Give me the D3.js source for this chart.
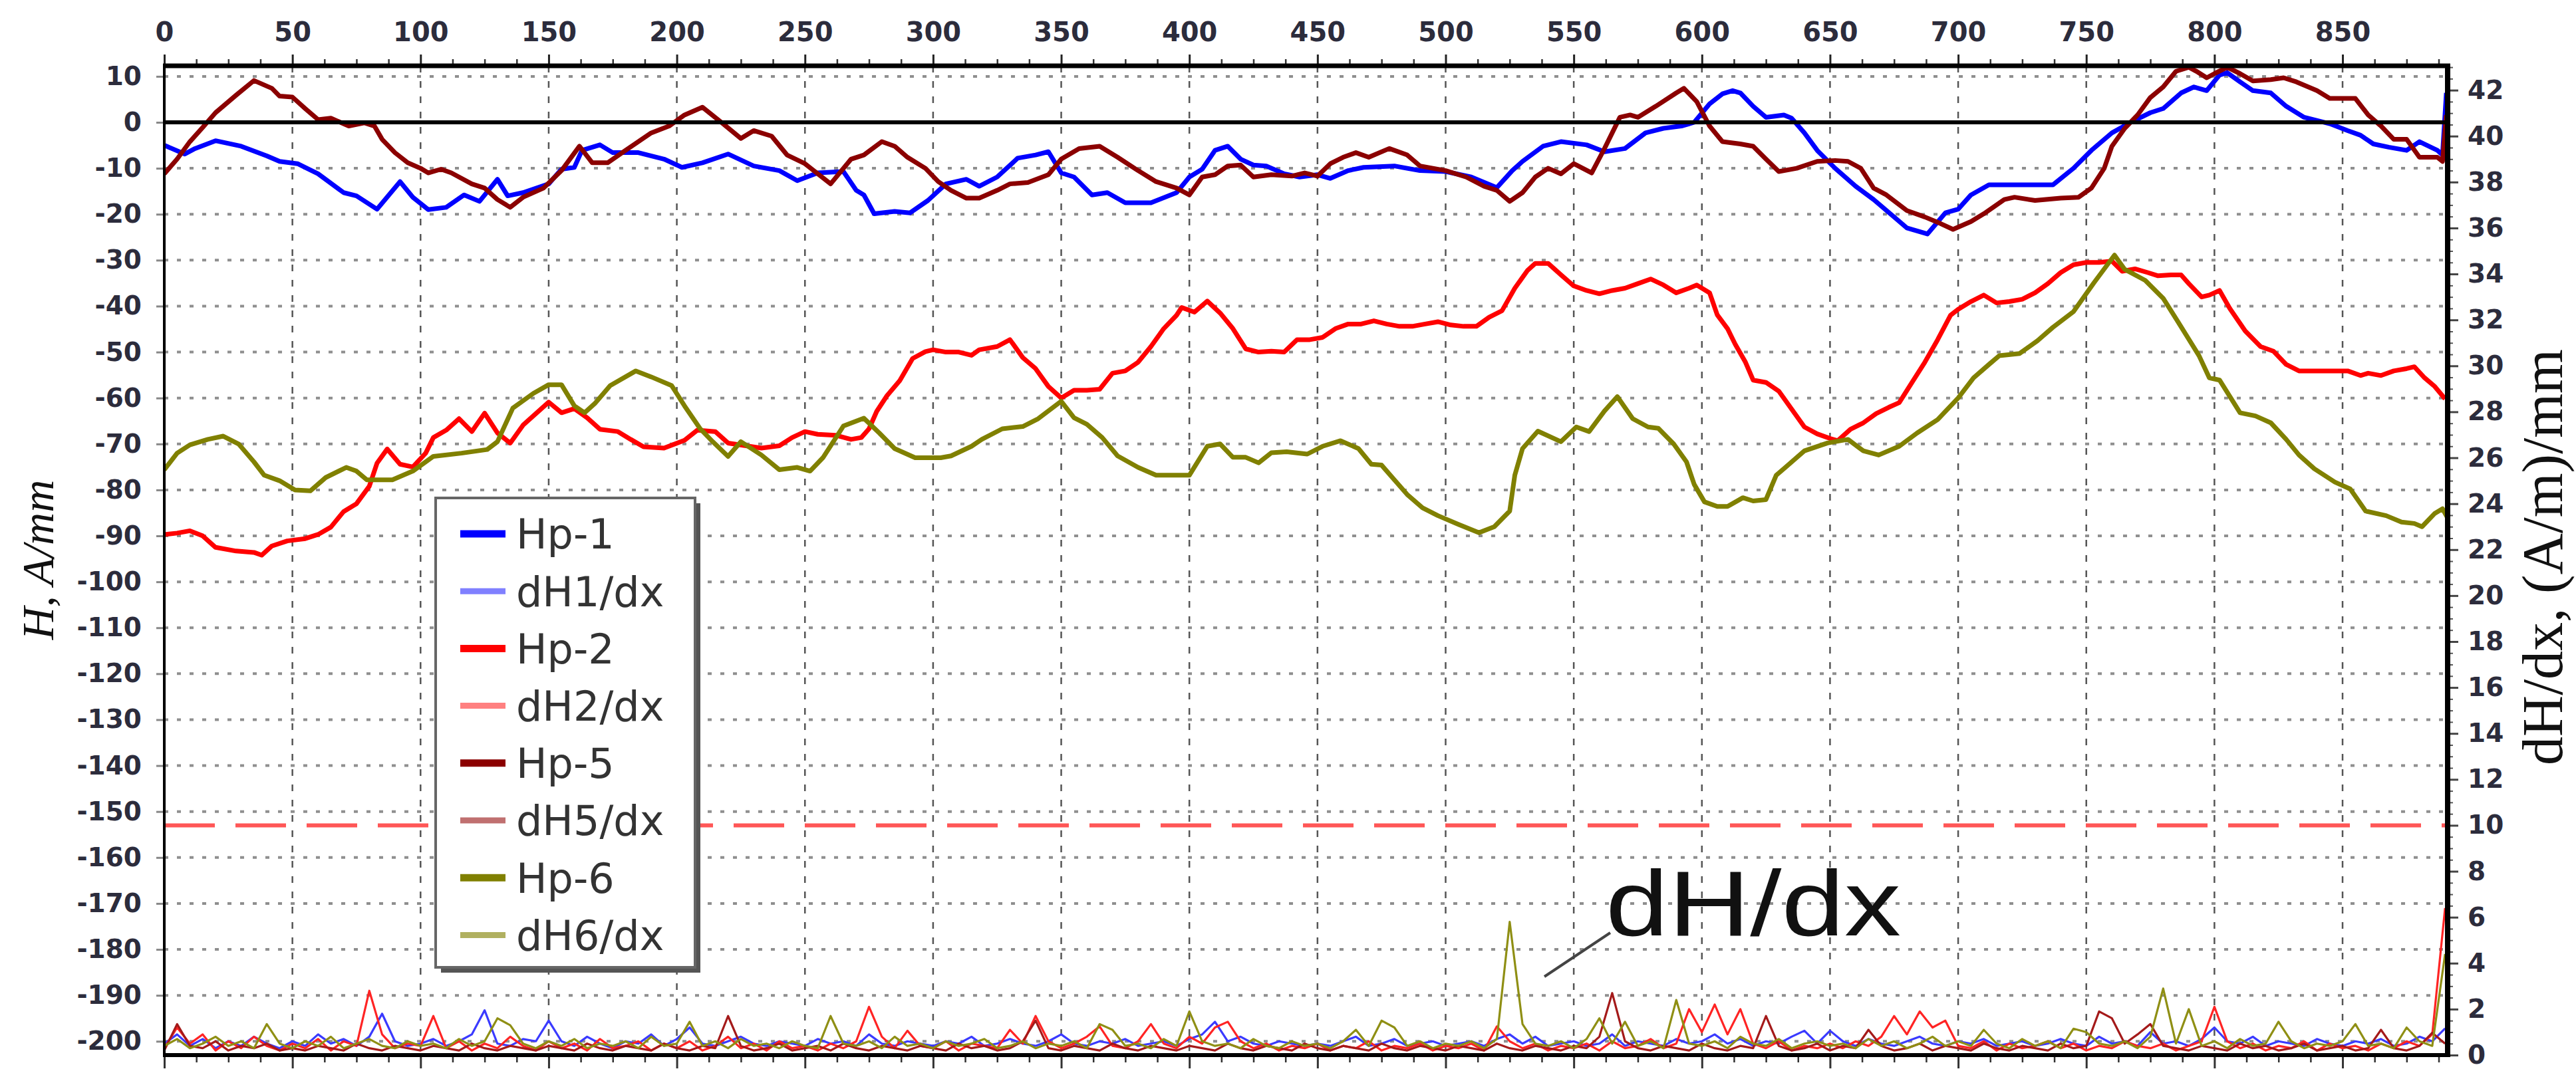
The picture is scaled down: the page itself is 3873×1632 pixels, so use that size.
<!DOCTYPE html>
<html><head><meta charset="utf-8">
<script src="https://cdn.jsdelivr.net/npm/d3@7"></script>
<style>html,body{margin:0;padding:0;background:#fff;} svg{display:block;}</style>
</head><body>
<svg id="chart" width="3873" height="1632"></svg>
<script>
// ---------------- data ----------------
const xTicks = [0,50,100,150,200,250,300,350,400,450,500,550,600,650,700,750,800,850];
const leftTicks = [10,0,-10,-20,-30,-40,-50,-60,-70,-80,-90,-100,-110,-120,-130,-140,-150,-160,-170,-180,-190,-200];
const rightTicks = [0,2,4,6,8,10,12,14,16,18,20,22,24,26,28,30,32,34,36,38,40,42];
const legendNames = ["Hp-1","dH1/dx","Hp-2","dH2/dx","Hp-5","dH5/dx","Hp-6","dH6/dx"];
const thresholdDH = 10;
const annotationText = "dH/dx";

// H series: [x, H (A/mm)]
const hp1 = [[0,-5],[8,-6.9],[12,-5.7],[20,-4],[30,-5.2],[40,-7.3],[45,-8.5],[52,-9],[60,-11.2],[70,-15.3],[75,-16],[83,-18.9],[92,-12.9],[97,-16.3],[103,-19],[110,-18.5],[117,-15.8],[123,-17.2],[130,-12.4],[134,-16],[140,-15.3],[150,-13.4],[155,-10.2],[160,-9.8],[163,-6.1],[170,-4.9],[175,-6.6],[185,-6.6],[195,-8],[202,-9.8],[210,-8.8],[220,-6.9],[230,-9.5],[240,-10.5],[247,-12.7],[255,-11],[265,-10.7],[270,-14.8],[273,-15.8],[277,-19.9],[285,-19.4],[291,-19.7],[298,-17],[305,-13.4],[313,-12.4],[318,-13.9],[325,-11.9],[333,-7.8],[340,-7.1],[345,-6.4],[350,-11],[355,-11.9],[362,-15.8],[368,-15.3],[375,-17.5],[385,-17.5],[395,-15.3],[400,-11.9],[405,-10.2],[410,-6.1],[415,-5.2],[420,-8],[425,-9.3],[430,-9.5],[437,-11.2],[443,-11.9],[450,-11.4],[455,-12.2],[462,-10.5],[468,-9.8],[480,-9.5],[490,-10.5],[500,-10.7],[510,-11.9],[520,-14.2],[526,-10.5],[530,-8.5],[538,-5.2],[545,-4.2],[555,-4.9],[562,-6.4],[570,-5.7],[578,-2.3],[585,-1.3],[592,-0.8],[597,0],[603,4],[608,6.2],[612,6.9],[615,6.4],[620,3.5],[625,1.1],[632,1.6],[635,0.9],[640,-2.3],[645,-6.1],[652,-10],[660,-13.9],[667,-16.8],[675,-20.6],[680,-23],[688,-24.3],[695,-19.7],[700,-18.9],[705,-15.8],[712,-13.6],[725,-13.6],[737,-13.6],[745,-10],[752,-6.1],[760,-2.3],[767,-0.1],[775,2.1],[780,3],[787,6.4],[792,7.7],[797,6.9],[802,10.3],[805,10.8],[810,8.8],[815,6.9],[822,6.4],[828,3.5],[835,1.1],[845,-0.3],[852,-1.8],[857,-2.8],[862,-4.7],[868,-5.4],[875,-6.1],[880,-4.2],[887,-6.1],[889,-7.1],[890.5,6.4]];

const hp2 = [[0,-89.7],[5,-89.4],[10,-88.9],[15,-90],[20,-92.5],[28,-93.3],[35,-93.6],[38,-94.2],[42,-92.2],[48,-91.1],[55,-90.6],[60,-89.7],[65,-88.1],[70,-84.7],[75,-83],[80,-79.2],[83,-74.2],[87,-71.1],[92,-74.4],[97,-75],[102,-72],[105,-68.6],[110,-67],[115,-64.5],[120,-67.3],[125,-63.3],[130,-67.6],[135,-69.8],[140,-65.9],[145,-63.4],[150,-60.9],[155,-63.2],[160,-62.3],[165,-64.3],[170,-66.8],[177,-67.3],[182,-69],[187,-70.6],[195,-70.9],[203,-69.2],[208,-67],[215,-67.3],[220,-69.8],[227,-70.4],[233,-70.9],[240,-70.4],[245,-68.6],[250,-67.3],[255,-67.9],[262,-68.1],[268,-69],[272,-68.6],[275,-66.7],[278,-62.9],[282,-59.5],[287,-56.2],[292,-51.4],[297,-49.9],[300,-49.5],[305,-50],[310,-50],[315,-50.7],[318,-49.5],[325,-48.8],[330,-47.3],[335,-51.2],[340,-53.6],[345,-57.5],[350,-60],[355,-58.3],[360,-58.3],[365,-58.1],[370,-54.6],[375,-54.1],[380,-52.2],[385,-48.8],[390,-44.9],[395,-42],[397,-40.3],[402,-41.3],[407,-38.9],[412,-41.5],[417,-44.9],[422,-49.3],[427,-50],[432,-49.8],[437,-50],[442,-47.3],[447,-47.3],[452,-46.8],[457,-44.9],[462,-43.9],[467,-43.9],[472,-43.2],[477,-43.9],[482,-44.4],[487,-44.4],[492,-43.9],[497,-43.4],[502,-44.1],[507,-44.4],[512,-44.4],[517,-42.4],[522,-41],[527,-36.1],[532,-32.2],[535,-30.7],[540,-30.7],[545,-33.2],[550,-35.6],[555,-36.6],[560,-37.3],[565,-36.6],[570,-36.1],[575,-35.1],[580,-34.1],[585,-35.4],[590,-37.1],[595,-36.1],[598,-35.4],[603,-37.1],[606,-41.9],[610,-44.9],[613,-48.3],[617,-52.2],[620,-56.1],[625,-56.6],[630,-58.5],[635,-62.4],[640,-66.3],[645,-67.8],[650,-68.8],[653,-69.3],[658,-66.8],[663,-65.4],[668,-63.4],[673,-62],[677,-61],[682,-56.6],[687,-52.2],[692,-47.3],[697,-42],[700,-40.7],[705,-39],[710,-37.6],[715,-39.3],[720,-39],[725,-38.5],[730,-37.1],[735,-35.1],[740,-32.7],[745,-31],[750,-30.5],[755,-30.5],[760,-30.2],[764,-32.4],[769,-31.9],[774,-32.7],[778,-33.4],[783,-33.2],[787,-33.2],[790,-35.1],[795,-38],[798,-37.6],[802,-36.6],[806,-40.5],[812,-45.4],[818,-48.8],[823,-49.8],[828,-52.7],[833,-54.1],[852,-54.1],[857,-55.1],[860,-54.6],[865,-55.1],[870,-54.1],[875,-53.6],[878,-53.2],[882,-55.6],[886,-57.5],[890,-60.2]];

const hp5 = [[0,-11.2],[5,-8],[10,-4.2],[15,-1.1],[20,2.1],[28,5.9],[35,9.1],[42,7.4],[45,5.7],[50,5.5],[55,3],[60,0.6],[65,0.9],[72,-0.8],[78,-0.1],[82,-0.8],[85,-3.7],[90,-6.6],[95,-8.8],[100,-10],[103,-11],[108,-10.2],[112,-11],[120,-13.4],[125,-14.3],[130,-16.8],[135,-18.5],[140,-16.3],[148,-14.3],[155,-10.5],[162,-5.2],[167,-8.8],[173,-8.8],[180,-6.1],[190,-2.3],[197,-0.8],[203,1.6],[210,3.3],[218,-0.3],[225,-3.5],[230,-1.8],[237,-3],[243,-7.1],[250,-9],[260,-13.4],[268,-8],[273,-7.1],[280,-4.2],[285,-5.2],[290,-7.6],[297,-10],[302,-12.9],[307,-14.8],[313,-16.5],[318,-16.5],[325,-14.8],[330,-13.4],[337,-13.1],[345,-11.4],[350,-8],[357,-5.7],[365,-5.2],[372,-7.6],[380,-10.5],[387,-12.9],[395,-14.3],[400,-15.8],[405,-11.9],[410,-11.4],[415,-9.5],[420,-9.3],[425,-11.9],[432,-11.4],[440,-11.7],[445,-11],[450,-11.7],[455,-9],[460,-7.6],[465,-6.6],[470,-7.6],[478,-5.7],[485,-7.1],[490,-9.5],[500,-10.5],[508,-11.9],[515,-13.9],[520,-14.8],[525,-17.2],[530,-15.3],[535,-11.9],[540,-10],[545,-11.2],[550,-9],[557,-11],[562,-5.7],[568,1.1],[572,1.6],[575,1.1],[582,3.5],[590,6.4],[593,7.4],[598,4.5],[603,-0.8],[608,-4.2],[615,-4.7],[620,-5.2],[625,-8],[630,-10.7],[637,-10],[645,-8.5],[652,-8.3],[657,-8.5],[662,-10],[667,-14.3],[672,-15.8],[680,-19.2],[687,-20.6],[693,-22],[698,-23.3],[705,-21.6],[710,-19.9],[718,-16.8],[722,-16.3],[730,-17],[740,-16.5],[747,-16.3],[752,-14.3],[757,-10],[760,-5.2],[765,-1.3],[770,1.6],[775,5.4],[780,7.7],[785,11.1],[790,12],[793,11.1],[797,9.7],[800,10.6],[805,12],[810,10.6],[815,9],[822,9.3],[827,9.7],[832,8.8],[840,6.9],[845,5.2],[855,5.2],[860,1.6],[865,-0.8],[870,-3.7],[875,-3.7],[880,-7.6],[887,-7.6],[889,-8.5],[890.5,1.6]];

const hp6 = [[0,-75.6],[5,-72],[10,-70.2],[17,-69],[23,-68.3],[29,-70],[35,-73.9],[39,-76.8],[45,-78],[51,-80],[57,-80.2],[63,-77.3],[71,-75.1],[75,-75.9],[79,-77.8],[89,-77.8],[97,-75.9],[105,-72.7],[116,-72],[126,-71.2],[130,-69.5],[136,-62.2],[144,-59],[150,-57.1],[155,-57.1],[160,-61.7],[164,-63.2],[168,-61.2],[174,-57.3],[184,-54.1],[190,-55.4],[198,-57.3],[203,-61.7],[209,-66.6],[214,-69.5],[220,-72.7],[225,-69.5],[233,-72.4],[240,-75.6],[247,-75.1],[252,-75.9],[257,-73],[265,-66.1],[273,-64.4],[279,-67.6],[285,-71],[293,-73],[303,-73],[307,-72.6],[315,-70.5],[319,-69],[327,-66.7],[335,-66.2],[341,-64.5],[350,-60.7],[355,-64.3],[360,-65.7],[366,-68.6],[372,-72.6],[380,-75.1],[387,-76.8],[400,-76.8],[407,-70.5],[412,-70],[417,-72.9],[422,-72.9],[427,-74.1],[432,-71.9],[438,-71.7],[446,-72.2],[452,-70.5],[459,-69.3],[466,-71],[471,-74.4],[475,-74.6],[480,-77.8],[485,-81],[491,-83.9],[497,-85.6],[505,-87.5],[513,-89.3],[519,-88],[525,-84.6],[527,-76.8],[530,-71],[536,-67.2],[545,-69.5],[551,-66.3],[556,-67.3],[562,-62.8],[567,-59.7],[573,-64.5],[579,-66.3],[583,-66.6],[589,-70],[594,-73.9],[597,-78.8],[601,-82.6],[606,-83.6],[610,-83.6],[616,-81.7],[620,-82.4],[625,-82.1],[629,-76.8],[633,-74.9],[640,-71.5],[649,-69.8],[657,-69],[663,-71.5],[669,-72.4],[677,-70.5],[684,-67.6],[692,-64.7],[700,-60],[706,-55.6],[712,-52.7],[716,-50.8],[724,-50.3],[731,-47.5],[737,-44.6],[745,-41.2],[753,-34.9],[761,-28.9],[765,-32],[773,-34.4],[780,-38.3],[786,-43.6],[794,-50.8],[798,-55.6],[802,-56.1],[810,-63.2],[816,-63.9],[822,-65.4],[828,-69],[833,-72.4],[839,-75.4],[847,-78.3],[853,-79.8],[859,-84.6],[867,-85.6],[873,-87],[878,-87.3],[881,-88],[886,-85.1],[889,-84.1],[891,-86.1]];

// dH/dx series, sampled every 5 units of x (0..890), in (A/m)/mm
const dH1 = [0.5,0.9,0.4,0.7,0.3,0.6,0.4,0.8,0.5,0.3, 0.6,0.4,0.9,0.5,0.7,0.4,0.8,1.8,0.6,0.4, 0.5,0.7,0.4,0.6,0.9,1.95,0.5,0.4,0.7,0.6, 1.5,0.6,0.4,0.8,0.5,0.3,0.6,0.5,0.9,0.4, 0.7,1.2,0.5,0.4,0.6,0.8,0.5,0.4,0.6,0.5, 0.4,0.7,0.5,0.6,0.4,0.9,0.5,0.4,0.6,0.5, 0.4,0.6,0.5,0.8,0.4,0.5,0.7,0.5,0.4,0.6, 0.9,0.5,0.4,0.6,0.5,0.7,0.4,0.5,0.6,0.4, 0.7,0.9,1.45,0.6,0.8,0.5,0.4,0.6,0.5,0.4, 0.5,0.4,0.6,0.8,0.4,0.5,0.7,0.4,0.5,0.6, 0.4,0.5,0.6,0.4,0.7,0.9,0.5,0.8,0.4,0.5, 0.6,0.4,0.5,0.9,0.4,0.6,0.5,0.4,0.7,0.5, 0.6,0.9,0.5,0.7,0.4,0.6,0.5,0.8,1.06,0.5, 1.06,0.6,0.4,0.7,0.5,0.4,0.6,0.8,0.5,0.4, 0.6,0.5,0.7,0.4,0.5,0.6,0.4,0.5,0.7,0.5, 0.4,0.8,0.5,0.6,0.4,1.0,0.5,0.6,0.4,0.7, 1.2,0.6,0.5,0.8,0.4,0.6,0.5,0.4,0.7,0.5, 0.4,0.6,0.5,0.7,0.4,0.5,0.8,0.6,1.16];
const dH2 = [0.3,1.2,0.5,0.9,0.2,0.6,0.3,0.8,0.4,0.2, 0.5,0.3,0.7,0.2,0.6,0.4,2.8,0.9,0.3,0.5, 0.4,1.7,0.3,0.6,0.2,0.5,0.3,0.8,0.4,0.2, 0.6,0.3,0.5,0.2,0.7,0.3,0.4,0.6,0.2,0.5, 0.3,0.6,0.2,0.4,0.8,0.3,0.5,0.2,0.6,0.3, 0.4,0.2,0.5,0.3,0.6,2.1,0.8,0.3,1.06,0.4, 0.3,0.6,0.2,0.5,0.4,0.3,1.1,0.5,1.7,0.6, 0.3,0.5,0.8,1.25,0.4,0.3,0.6,1.35,0.5,0.3, 0.8,0.5,1.2,1.45,0.6,0.3,0.5,0.2,0.4,0.3, 0.5,0.2,0.4,0.3,0.6,0.2,0.4,0.3,0.5,0.2, 0.4,0.3,0.5,0.2,1.25,0.6,0.3,0.5,0.2,0.4, 0.3,0.5,0.2,0.6,0.3,0.4,0.7,0.3,0.5,2.0, 1.0,2.2,0.9,2.0,0.5,0.3,0.6,0.2,0.4,0.3, 0.5,0.3,0.6,0.4,0.8,1.7,0.9,1.9,1.2,1.5, 0.4,0.3,0.6,0.2,0.5,0.3,0.4,0.6,0.3,0.5, 0.2,0.4,0.3,0.6,0.4,0.3,0.5,0.2,0.4,0.6, 2.1,0.6,0.3,0.5,0.2,0.4,0.3,0.6,0.2,0.5, 0.3,0.4,0.2,0.5,0.3,0.6,0.4,0.9,6.4];
const dH5 = [0.2,1.35,0.4,0.3,0.6,0.2,0.4,0.3,0.5,0.2, 0.3,0.2,0.4,0.3,0.2,0.5,0.3,0.2,0.4,0.3, 0.2,0.4,0.3,0.2,0.5,0.3,0.2,0.4,0.3,0.2, 0.4,0.3,0.2,0.5,0.3,0.2,0.4,0.3,0.2,0.5, 0.3,0.2,0.4,0.3,1.7,0.4,0.2,0.3,0.5,0.2, 0.3,0.4,0.2,0.5,0.3,0.2,0.4,0.3,0.2,0.4, 0.3,0.2,0.5,0.3,0.4,0.2,0.3,0.6,1.5,0.3, 0.2,0.4,0.3,0.2,0.5,0.3,0.2,0.4,0.3,0.2, 0.4,0.3,0.2,0.5,0.3,0.2,0.4,0.3,0.2,0.5, 0.3,0.2,0.4,0.3,0.2,0.5,0.3,0.2,0.4,0.3, 0.2,0.4,0.3,0.2,0.5,0.3,0.2,0.4,0.3,0.2, 0.4,0.3,0.8,2.7,0.6,0.3,0.2,0.4,0.3,0.2, 0.5,0.3,0.2,0.4,0.3,1.7,0.4,0.2,0.3,0.5, 0.2,0.4,0.3,1.1,0.4,0.2,0.3,0.5,0.2,0.4, 0.3,0.2,0.5,0.3,0.2,0.4,0.3,0.2,0.5,0.3, 0.4,1.9,1.6,0.5,0.9,1.35,0.4,0.3,0.2,0.4, 0.3,0.2,0.5,0.3,0.4,0.2,0.3,0.5,0.2,0.3, 0.4,0.2,0.3,1.1,0.3,0.2,0.4,0.97,0.5];
const dH6 = [0.4,0.7,0.3,0.5,0.8,0.4,0.6,0.3,1.35,0.5, 0.3,0.6,0.4,0.8,0.3,0.5,0.7,0.4,0.3,0.6, 0.4,0.5,0.3,0.7,0.4,0.6,1.6,1.3,0.5,0.3, 0.6,0.4,0.7,0.3,0.5,0.4,0.6,0.3,0.8,0.4, 0.5,1.45,0.4,0.6,0.3,0.7,0.4,0.5,0.3,0.6, 0.4,0.3,1.7,0.5,0.4,0.6,0.3,0.8,0.4,0.5, 0.3,0.6,0.4,0.5,0.7,0.3,0.4,0.6,0.3,0.5, 0.4,0.6,0.3,1.35,1.1,0.4,0.5,0.3,0.7,0.4, 1.9,0.6,0.4,0.5,0.3,0.7,0.4,0.3,0.6,0.4, 0.5,0.3,0.6,1.1,0.4,1.5,1.2,0.4,0.6,0.3, 0.5,0.4,0.6,0.3,0.7,5.8,1.35,0.5,0.4,0.6, 0.3,0.7,1.6,0.5,1.45,0.4,0.6,0.3,2.4,0.5, 0.4,0.6,0.3,0.8,0.5,0.4,0.7,0.3,0.5,0.6, 0.4,0.5,0.3,0.7,0.4,0.6,0.3,0.5,0.8,0.4, 0.6,0.4,1.1,0.5,0.3,0.7,0.4,0.6,0.3,1.15, 1.0,0.5,0.4,0.6,0.3,0.8,2.9,0.5,2.0,0.4, 0.6,0.3,0.7,0.4,0.5,1.45,0.6,0.3,0.5,0.4, 0.6,1.35,0.4,0.5,0.3,1.2,0.6,0.4,4.4];
const dxX = d3.range(0, 891, 5);

// ---------------- drawing ----------------
const W = 3873, H = 1632;
const PL = 247, PR = 3680, PT = 99, PB = 1587;
const x = d3.scaleLinear().domain([0, 891]).range([PL, PR]);
const yL = d3.scaleLinear().domain([-203, 12.3]).range([PB, PT]);
const yR = d3.scaleLinear().domain([0, 43.06]).range([PB, PT]);

const svg = d3.select('#chart');
svg.append('rect').attr('width', W).attr('height', H).attr('fill', '#fff');
svg.append('defs').append('clipPath').attr('id', 'clip')
  .append('rect').attr('x', PL).attr('y', PT).attr('width', PR - PL).attr('height', PB - PT);

const labelFont = g => g.attr('font-family', 'DejaVu Sans').attr('font-weight', 'bold')
  .attr('font-size', 39).attr('fill', '#2c2c3c');

// grid
const grid = svg.append('g');
grid.selectAll('line.hg').data(leftTicks).join('line').attr('class', 'hg')
  .attr('x1', PL).attr('x2', PR).attr('y1', d => yL(d)).attr('y2', d => yL(d))
  .attr('stroke', '#8f8f8f').attr('stroke-width', 4).attr('stroke-dasharray', '6,13');
grid.selectAll('line.vg').data(xTicks.filter(d => d > 0)).join('line').attr('class', 'vg')
  .attr('x1', d => x(d)).attr('x2', d => x(d)).attr('y1', PT).attr('y2', PB)
  .attr('stroke', '#555').attr('stroke-width', 2.5).attr('stroke-dasharray', '10,13');

// threshold line
svg.append('line').attr('x1', PL).attr('x2', PR)
  .attr('y1', yR(thresholdDH)).attr('y2', yR(thresholdDH))
  .attr('stroke', '#ff5656').attr('stroke-width', 6).attr('stroke-dasharray', '76,31');

// dH/dx lines
const plot = svg.append('g').attr('clip-path', 'url(#clip)');
const dLine = d3.line().x((d, i) => x(dxX[i])).y(d => yR(d));
const dSeries = [[dH1, '#3a3aff'], [dH2, '#ff2424'], [dH5, '#a41a1a'], [dH6, '#8f8f14']];
dSeries.forEach(([vals, col]) => {
  plot.append('path').datum(vals).attr('d', dLine).attr('fill', 'none')
    .attr('stroke', col).attr('stroke-width', 3.2).attr('stroke-linejoin', 'round');
});

// H lines
const hLine = d3.line().x(d => x(d[0])).y(d => yL(d[1]));
const hSeries = [[hp1, '#0000ff'], [hp2, '#ff0000'], [hp5, '#8b0000'], [hp6, '#808000']];
hSeries.forEach(([vals, col]) => {
  plot.append('path').datum(vals).attr('d', hLine).attr('fill', 'none')
    .attr('stroke', col).attr('stroke-width', 7).attr('stroke-linejoin', 'round');
});

// axes
const minorX = d3.range(0, 891, 12.5).filter(d => d % 50 !== 0);
svg.append('g').attr('transform', `translate(0,${PT})`)
  .call(d3.axisTop(x).tickValues(xTicks).tickSize(17).tickPadding(20).tickFormat(d3.format('d')))
  .call(g => g.select('.domain').remove())
  .call(g => g.selectAll('line').attr('stroke', '#222').attr('stroke-width', 3))
  .call(g => labelFont(g.selectAll('text')).attr('font-size', 40));
svg.append('g').attr('transform', `translate(0,${PT})`)
  .call(d3.axisTop(x).tickValues(minorX).tickSize(10).tickFormat(''))
  .call(g => g.select('.domain').remove())
  .call(g => g.selectAll('line').attr('stroke', '#333').attr('stroke-width', 2.5));
svg.append('g').attr('transform', `translate(0,${PB})`)
  .call(d3.axisBottom(x).tickValues(xTicks).tickSize(20).tickFormat(''))
  .call(g => g.select('.domain').remove())
  .call(g => g.selectAll('line').attr('stroke', '#333').attr('stroke-width', 3));
svg.append('g').attr('transform', `translate(0,${PB})`)
  .call(d3.axisBottom(x).tickValues(minorX).tickSize(11).tickFormat(''))
  .call(g => g.select('.domain').remove())
  .call(g => g.selectAll('line').attr('stroke', '#333').attr('stroke-width', 2.5));

svg.append('g').attr('transform', `translate(${PL},0)`)
  .call(d3.axisLeft(yL).tickValues(leftTicks).tickSize(12).tickPadding(22)
    .tickFormat(d => d < 0 ? '-' + Math.abs(d) : String(d)))
  .call(g => g.select('.domain').remove())
  .call(g => g.selectAll('line').attr('stroke', '#888').attr('stroke-width', 3))
  .call(g => labelFont(g.selectAll('text')));

const minorR = d3.range(0, 43.01, 0.5).filter(d => d % 2 !== 0);
svg.append('g').attr('transform', `translate(${PR},0)`)
  .call(d3.axisRight(yR).tickValues(rightTicks).tickSize(16).tickPadding(14).tickFormat(d3.format('d')))
  .call(g => g.select('.domain').remove())
  .call(g => g.selectAll('line').attr('stroke', '#444').attr('stroke-width', 3))
  .call(g => labelFont(g.selectAll('text')));
svg.append('g').attr('transform', `translate(${PR},0)`)
  .call(d3.axisRight(yR).tickValues(minorR).tickSize(8).tickFormat(''))
  .call(g => g.select('.domain').remove())
  .call(g => g.selectAll('line').attr('stroke', '#555').attr('stroke-width', 2));

// frame and zero line
svg.append('line').attr('x1', PL).attr('x2', PR).attr('y1', yL(0)).attr('y2', yL(0))
  .attr('stroke', '#000').attr('stroke-width', 6);
svg.append('line').attr('x1', PL - 2).attr('x2', PR + 4).attr('y1', PT).attr('y2', PT)
  .attr('stroke', '#000').attr('stroke-width', 7);
svg.append('line').attr('x1', PL - 2).attr('x2', PR + 4).attr('y1', PB).attr('y2', PB)
  .attr('stroke', '#000').attr('stroke-width', 6);
svg.append('line').attr('x1', PL).attr('x2', PL).attr('y1', PT).attr('y2', PB)
  .attr('stroke', '#000').attr('stroke-width', 4);
svg.append('line').attr('x1', PR).attr('x2', PR).attr('y1', PT).attr('y2', PB)
  .attr('stroke', '#000').attr('stroke-width', 8);

// axis titles
svg.append('text').attr('transform', `translate(80,842) rotate(-90)`)
  .attr('text-anchor', 'middle').attr('font-family', 'Liberation Serif')
  .attr('font-style', 'italic').attr('font-size', 68).attr('fill', '#111')
  .text('H,  A/mm');
svg.append('text').attr('transform', `translate(3852,838) rotate(-90)`)
  .attr('text-anchor', 'middle').attr('font-family', 'Liberation Serif')
  .attr('font-size', 86).attr('fill', '#111')
  .text('dH/dx,  (A/m)/mm');

// legend
const lg = svg.append('g');
const lx0 = 655, ly0 = 749, lw = 390, lh = 706;
lg.append('rect').attr('x', lx0 + 8).attr('y', ly0 + 8).attr('width', lw).attr('height', lh).attr('fill', '#555');
lg.append('rect').attr('x', lx0).attr('y', ly0).attr('width', lw).attr('height', lh)
  .attr('fill', '#fff').attr('stroke', '#666').attr('stroke-width', 4);
const legendCols = ['#0000ff', '#8080ff', '#ff0000', '#ff8080', '#8b0000', '#c07070', '#808000', '#b0b060'];
const ly = i => 803 + i * 86.2;
lg.selectAll('line.sw').data(legendNames).join('line').attr('class', 'sw')
  .attr('x1', 692).attr('x2', 760).attr('y1', (d, i) => ly(i)).attr('y2', (d, i) => ly(i))
  .attr('stroke', (d, i) => legendCols[i]).attr('stroke-width', (d, i) => i % 2 === 0 ? 11 : 9);
lg.selectAll('text').data(legendNames).join('text')
  .attr('x', 776).attr('y', (d, i) => ly(i)).attr('dy', '0.36em')
  .attr('font-family', 'DejaVu Sans').attr('font-size', 62).attr('fill', '#333')
  .text(d => d);

// annotation
svg.append('line').attr('x1', 2322).attr('y1', 1469).attr('x2', 2421).attr('y2', 1403)
  .attr('stroke', '#444').attr('stroke-width', 4);
svg.append('text').attr('x', 2414).attr('y', 1407)
  .attr('font-family', 'Liberation Sans').attr('font-size', 140).attr('fill', '#111')
  .attr('textLength', 444).attr('lengthAdjust', 'spacingAndGlyphs')
  .text(annotationText);
</script>
</body></html>
